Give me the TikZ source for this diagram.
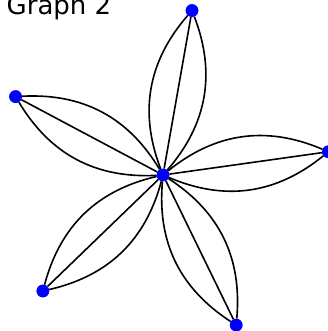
\documentclass[tikz,border=0pt]{standalone}
\usepackage{fontspec}
\setmainfont{DejaVu Sans}
\usepackage{tikz}
\usetikzlibrary{calc}
\definecolor{dotblue}{HTML}{0000FF}

\begin{document}
\begin{tikzpicture}[
  x=1pt,y=1pt,
  vertex/.style={circle,fill=dotblue,inner sep=0pt,minimum size=12.6pt},
  link/.style={line width=1.6pt,black}
]
\useasboundingbox (0,-331) rectangle (328,0);
\clip (0,-331) rectangle (328,0);
\node[anchor=base west,inner sep=0pt,font=\fontsize{26}{31}\selectfont] (title) at (6.5,-15) {Graph 2};
\coordinate (mid) at (163,-175);
\node[vertex] (c) at (mid) {};
\node[vertex] (n1) at ($(mid)+(8:167)$) {};
\node[vertex] (n2) at ($(mid)+(80:167)$) {};
\node[vertex] (n3) at ($(mid)+(152:167)$) {};
\node[vertex] (n4) at ($(mid)+(224:167)$) {};
\node[vertex] (n5) at ($(mid)+(296:167)$) {};
% three edges per spoke
\draw[link] (c) -- (n1);
\draw[link,bend left=31] (c) to (n1);
\draw[link,bend right=31] (c) to (n1);
\draw[link] (c) -- (n2);
\draw[link,bend left=31] (c) to (n2);
\draw[link,bend right=31] (c) to (n2);
\draw[link] (c) -- (n3);
\draw[link,bend left=31] (c) to (n3);
\draw[link,bend right=31] (c) to (n3);
\draw[link] (c) -- (n4);
\draw[link,bend left=31] (c) to (n4);
\draw[link,bend right=31] (c) to (n4);
\draw[link] (c) -- (n5);
\draw[link,bend left=31] (c) to (n5);
\draw[link,bend right=31] (c) to (n5);
\node[vertex] at (c) {};
\node[vertex] at (n1) {};
\node[vertex] at (n2) {};
\node[vertex] at (n3) {};
\node[vertex] at (n4) {};
\node[vertex] at (n5) {};
\end{tikzpicture}
\end{document}
